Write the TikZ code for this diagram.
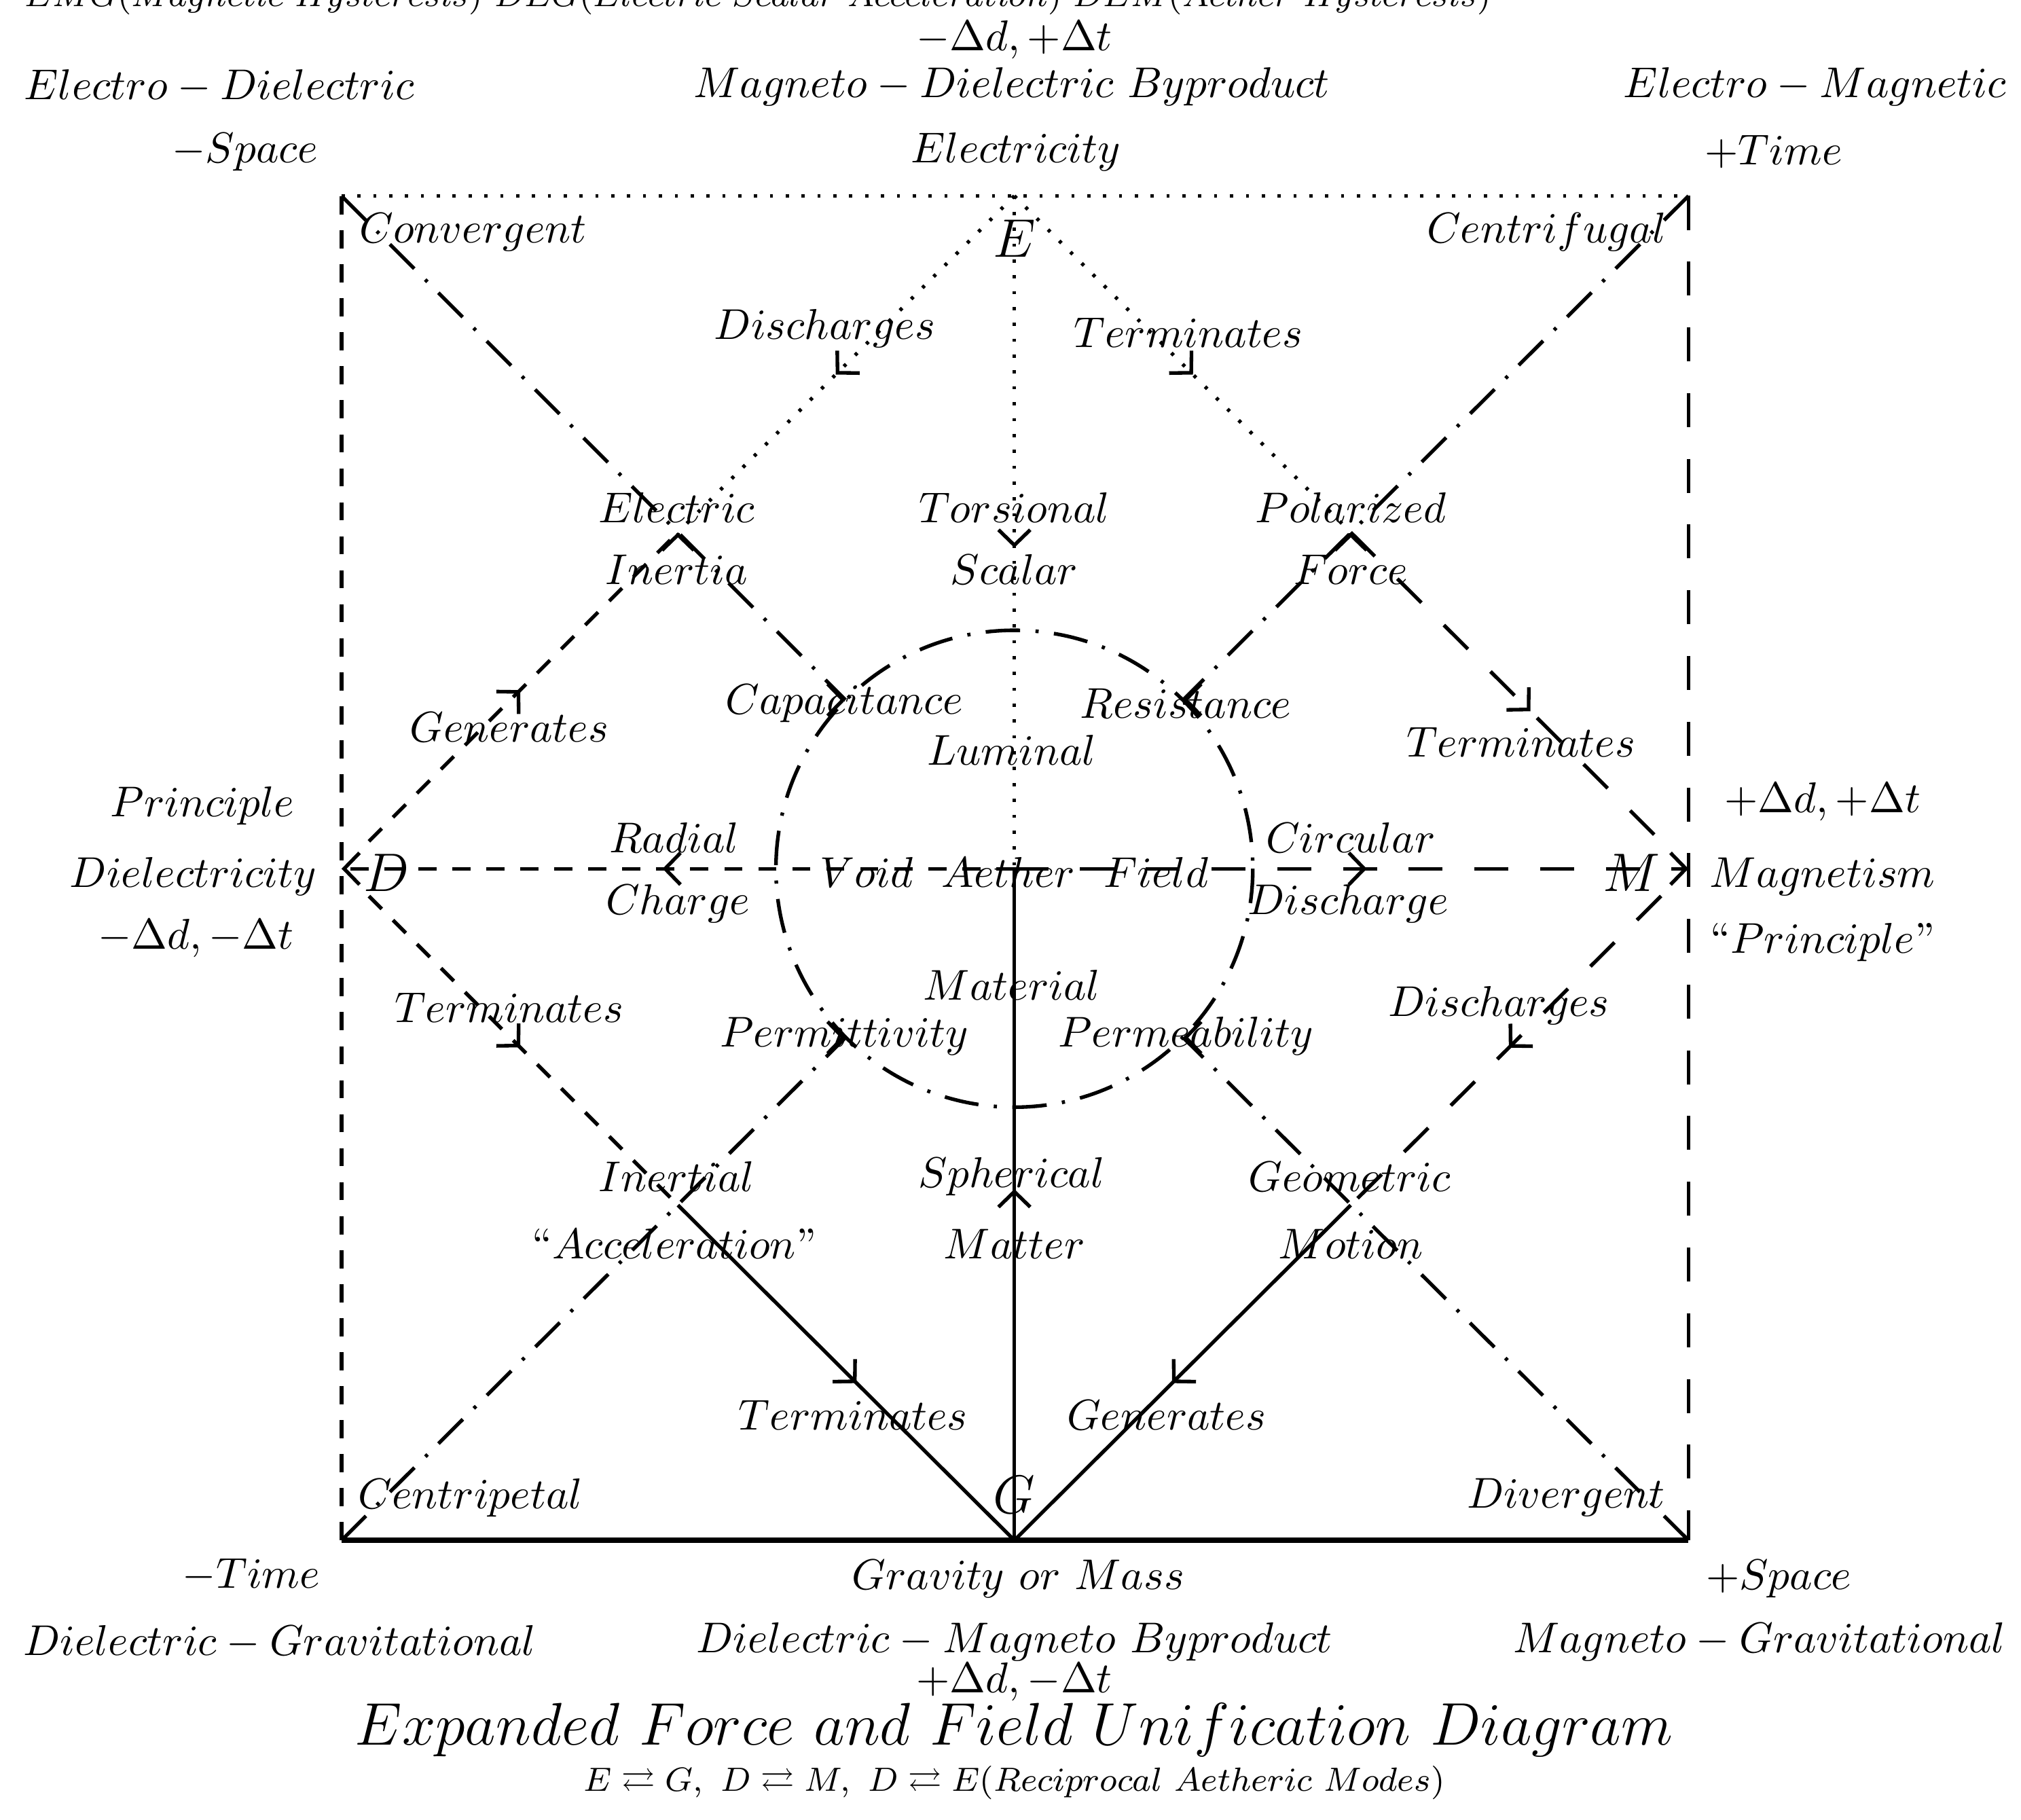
\documentclass[tikz,border=0pt]{standalone}
\usepackage{amssymb}
\usetikzlibrary{arrows.meta,decorations.markings}
\begin{document}
\begin{tikzpicture}[x=0.01cm,y=-0.01cm,
  every node/.style={scale=0.95},
  big/.style={font=\large,inner sep=0pt,scale=1.05},
  >={Straight Barb[length=3.4pt,width=7pt]},
  midarrow/.style={postaction={decorate},decoration={markings,mark=at position 0.5 with {\arrow[xshift=3.4pt]{>}}}},
  ln/.style={line width=0.8pt},
  tipmark/.style={ln,->},
  sdash/.style={ln,dash pattern=on 4pt off 3.5pt},
  ldash/.style={ln,dash pattern=on 7.5pt off 7pt},
  dots/.style={ln,dash pattern=on 0.7pt off 2.8pt},
  ddot/.style={ln,dash pattern=on 7.6pt off 3.4pt on 0.7pt off 3.4pt},
  solid line/.style={ln}]
\useasboundingbox (0,0) rectangle (1568,1412);
% key points
\coordinate (TL) at (265,152); \coordinate (TR) at (1310,152);
\coordinate (BL) at (265,1195); \coordinate (BR) at (1310,1195);
\coordinate (Et) at (787,152); \coordinate (Gb) at (787,1195);
\coordinate (Dl) at (265,674); \coordinate (Mr) at (1310,674);
\coordinate (C) at (787,674);
\coordinate (EI) at (526,413); \coordinate (PF) at (1048,413);
\coordinate (IA) at (526,935); \coordinate (GM) at (1048,935);
\coordinate (c1) at (656,543); \coordinate (c2) at (918,543);
\coordinate (c3) at (656,805); \coordinate (c4) at (918,805);
% frame
\draw[dots] (TL) -- (TR);
\draw[sdash] (BL) -- (TL);
\draw[ldash] (TR) -- (BR);
\draw[line width=1.2pt] (BL) -- (BR);
% circle
\draw[ddot] (C) circle[radius=185];
% corner diagonals
\draw[ddot] (TL) -- (c1);
\draw[ddot] (TR) -- (c2);
\draw[ddot] (BL) -- (c3);
\draw[ddot] (BR) -- (c4);
% arrowheads where the diagonals meet the circle and the lattice points
\draw[tipmark] ([xshift=-0.2pt]c1) -- (c1);
\draw[tipmark] ([xshift=-0.2pt]c3) -- (c3);
\draw[tipmark] ([xshift=0.2pt]c2) -- (c2);
\draw[tipmark] ([xshift=0.2pt]c4) -- (c4);
\draw[tipmark] ([yshift=-0.2pt]EI) -- (EI);
\draw[tipmark] ([yshift=-0.2pt]PF) -- (PF);
% axes
\draw[dots,midarrow] (Et) -- (C);
\draw[solid line,midarrow] (Gb) -- (C);
\draw[sdash,midarrow,->] (C) -- (Dl);
\draw[ldash,midarrow,->] (C) -- (Mr);
% diamond half edges
\draw[dots,midarrow] (Et) -- (EI);
\draw[dots,midarrow] (Et) -- (PF);
\draw[sdash,midarrow,shorten <=0.3cm] (Dl) -- (EI);
\draw[sdash,midarrow,shorten <=0.3cm] (Dl) -- (IA);
\draw[ldash,midarrow,shorten >=0.3cm] (PF) -- (Mr);
\draw[ldash,midarrow,shorten <=0.3cm] (Mr) -- (GM);
\draw[solid line,midarrow] (IA) -- (Gb);
\draw[solid line,midarrow] (GM) -- (Gb);
% main letters
\node[big] (E) at (787,185) {$E$};
\node[big] (D) at (300,677) {$D$};
\node[big] (M) at (1266,677) {$M$};
\node[big] (G) at (787,1160) {$G$};
% top texts
\node[anchor=base,font=\footnotesize,scale=0.965] (t0) at (588,5) {$EMG(Magnetic\ Hysteresis)\ DEG(Electric\ Scalar\ Acceleration)\ DEM(Aether\ Hysteresis)$};
\node (t1) at (787,31) {$-\Delta d, +\Delta t$};
\node (t2) at (170,67) {$Electro-Dielectric$};
\node (t3) at (785,67) {$Magneto-Dielectric\ Byproduct$};
\node (t4) at (1408,67) {$Electro-Magnetic$};
\node (t5) at (190,118) {$-Space$};
\node (t6) at (788,118) {$Electricity$};
\node (t7) at (1376,118) {$+Time$};
% inner texts
\node (l1) at (367,180) {$Convergent$};
\node (l2) at (1200,180) {$Centrifugal$};
\node (l3) at (640,255) {$Discharges$};
\node (l4) at (922,258) {$Terminates$};
\node (l5) at (525,394) {$Electric$};
\node (l6) at (525,442) {$Inertia$};
\node (l7) at (787,394) {$Torsional$};
\node (l8) at (787,442) {$Scalar$};
\node (l9) at (1048,394) {$Polarized$};
\node (l10) at (1048,442) {$Force$};
\node (l11) at (395,564) {$Generates$};
\node (l12) at (655,546) {$Capacitance$};
\node (l13) at (920,546) {$Resistance$};
\node (l14) at (785,582) {$Luminal$};
\node (l15) at (1180,576) {$Terminates$};
\node (l16) at (157,625) {$Principle$};
\node (l17) at (150,680) {$Dielectricity$};
\node (l18) at (152,728) {$-\Delta d, -\Delta t$};
\node (l19) at (1414,622) {$+\Delta d, +\Delta t$};
\node (l20) at (1414,680) {$Magnetism$};
\node (l21) at (1414,731) {``$Principle$''};
\node (l22) at (523,650) {$Radial$};
\node (l23) at (526,701) {$Charge$};
\node (l24) at (787,677) {$Void\ \ Aether\ \ Field$};
\node (l25) at (1048,650) {$Circular$};
\node (l26) at (1046,701) {$Discharge$};
\node (l27) at (785,764) {$Material$};
\node (l28) at (395,782) {$Terminates$};
\node (l29) at (655,804) {$Permittivity$};
\node (l30) at (920,804) {$Permeability$};
\node (l31) at (1163,780) {$Discharges$};
\node (l32) at (525,913) {$Inertial$};
\node (l33) at (523,965) {``$Acceleration$''};
\node (l34) at (785,913) {$Spherical$};
\node (l35) at (787,965) {$Matter$};
\node (l36) at (1047,913) {$Geometric$};
\node (l37) at (1048,965) {$Motion$};
\node (l38) at (662,1098) {$Terminates$};
\node (l39) at (905,1098) {$Generates$};
\node (l40) at (365,1162) {$Centripetal$};
\node (l41) at (1215,1162) {$Divergent$};
% bottom texts
\node (b1) at (195,1222) {$-Time$};
\node (b2) at (790,1225) {$Gravity\ or\ Mass$};
\node (b3) at (1380,1225) {$+Space$};
\node (b4) at (217,1274) {$Dielectric-Gravitational$};
\node (b5) at (787,1274) {$Dielectric-Magneto\ Byproduct$};
\node (b6) at (1365,1274) {$Magneto-Gravitational$};
\node (b7) at (787,1305) {$+\Delta d, -\Delta t$};
\node[font=\Large,scale=0.97] (title) at (787,1342) {$Expanded\ Force\ and\ Field\ Unification\ Diagram$};
\node[font=\footnotesize,scale=0.975] (sub) at (787,1383) {$E\rightleftarrows G,\ D\rightleftarrows M,\ D\rightleftarrows E(Reciprocal\ Aetheric\ Modes)$};
\end{tikzpicture}
\end{document}
